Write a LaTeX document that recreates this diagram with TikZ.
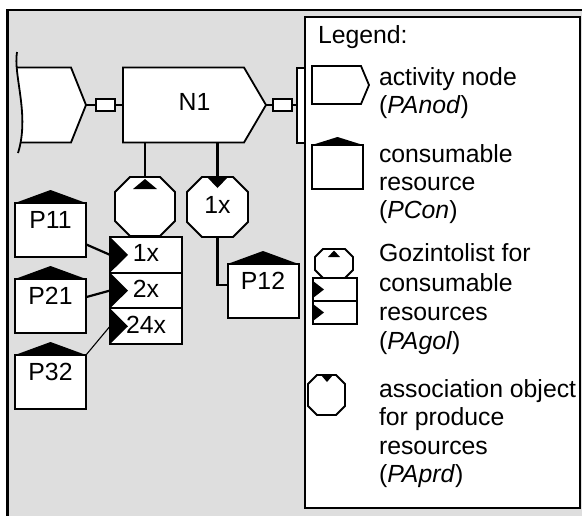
\documentclass[tikz,border=0pt]{standalone}
\usepackage{fontspec}
\setmainfont{Liberation Sans}
\usetikzlibrary{calc}
\definecolor{panelgray}{RGB}{222,222,222}
\tikzset{
  txt/.style={font=\fontsize{24.8}{28.7}\selectfont, inner sep=0pt, outer sep=0pt},
  outline/.style={draw=black, line width=1.8pt, fill=white, line join=miter},
  wire/.style={draw=black, line width=2.2pt},
  thinwire/.style={draw=black, line width=1.1pt},
  port/.style={draw=black, fill=white, line width=1.5pt, minimum width=19pt,
    minimum height=12pt, inner sep=0pt, outer sep=0pt},
  resbox/.style={draw=black, fill=white, line width=2pt, minimum width=71pt,
    minimum height=54pt, inner sep=0pt, outer sep=0pt},
  gzrow/.style={draw=black, fill=white, line width=2pt, minimum width=72pt,
    minimum height=35.7pt, inner sep=0pt, outer sep=0pt},
  frameonly/.style={inner sep=0pt, outer sep=0pt},
}
\begin{document}
\begin{tikzpicture}[x=1pt, y=-1pt]
\useasboundingbox (0,0) rectangle (582,515);
\clip (0,0) rectangle (582,515);

% panel
\draw[line width=2.8pt, fill=panelgray] (7.5,10) rectangle (640,560);

% preceding activity node, torn on its left side
\begin{scope}
  \clip (0,67.5) -- (71,67.5) -- (86,105) -- (71,142.5) -- (0,142.5) -- cycle;
  \fill[white] (17,52) .. controls (13,75) and (30,115) .. (18,153)
    -- (120,153) -- (120,52) -- cycle;
\end{scope}
\draw[line width=1.8pt] (16.4,67.5) -- (71,67.5) -- (86,105) -- (71,142.5) -- (20.8,142.5);
\draw[line width=1.8pt] (17,52) .. controls (13,75) and (30,115) .. (18,153);
\coordinate (a0tip) at (86,105);

% following activity node (mostly hidden)
\node[draw=black, fill=white, line width=2pt, minimum width=20pt, minimum height=75pt,
  frameonly] (n2) at (307,105) {};

% activity node N1
\node[frameonly, minimum width=121pt, minimum height=75pt] (n1) at (183.5,105) {};
\coordinate (n1tip) at ($(n1.east)+(22,0)$);

% ports
\node[port] (pl) at (105.5,105) {};
\node[port] (pr) at (282.5,105) {};
\draw[wire] (a0tip) -- (pl);
\draw[wire] (pl) -- (n1.west);
\draw[wire] (n1tip) -- (pr);
\draw[wire] (pr) -- (n2.west);
\node[port] at (pl) {};
\node[port] at (pr) {};

\draw[outline] (n1.north west) -- (n1.north east) -- (n1tip) -- (n1.south east)
  -- (n1.south west) -- cycle;
\node[txt] (n1lbl) at (194.5,102) {N1};

% gozintolist and association object
\node[frameonly, minimum width=60pt, minimum height=59pt] (goz) at (145,206.5) {};
\node[frameonly, minimum width=61pt, minimum height=60pt] (prd) at (217.5,207) {};
\draw[wire] (n1.south -| goz.north) -- (goz.north);
\draw[wire] (n1.south -| prd.north) -- (prd.north);
\draw[wire] (prd.south) |- ($(263,291)+(-35,-6.2)$) coordinate (p12in);

\draw[outline, shift={(goz.center)}] (-15,-29.5) -- (15,-29.5) -- (30,-14.5) -- (30,14.5)
  -- (15,29.5) -- (-15,29.5) -- (-30,14.5) -- (-30,-14.5) -- cycle;
\fill[shift={(goz.center)}] (-12,-17.5) -- (12,-17.5) -- (0,-27.5) -- cycle;

\draw[outline, shift={(prd.center)}] (-15.5,-30) -- (15.5,-30) -- (30.5,-15) -- (30.5,15)
  -- (15.5,30) -- (-15.5,30) -- (-30.5,15) -- (-30.5,-15) -- cycle;
\fill[shift={(prd.center)}] (-10.5,-30) -- (10.5,-30) -- (0,-19) -- cycle;
\node[txt] (prdlbl) at (217.5,205) {1x};

% gozintolist rows
\node[gzrow] (rowA) at (146,254.85) {};
\node[gzrow] (rowB) at (146,290.55) {};
\node[gzrow] (rowC) at (146,326.25) {};
\foreach \r in {rowA,rowB,rowC}
  \fill (\r.north west) -- ($(\r.west)+(18,0)$) -- (\r.south west) -- cycle;
\node[txt] (qa) at ($(rowA.center)+(0,-1.5)$) {1x};
\node[txt] (qb) at ($(rowB.center)+(0,-1.5)$) {2x};
\node[txt] (qc) at ($(rowC.center)+(0,-1.5)$) {24x};

% consumable resources
\node[resbox] (p11) at (50.5,230) {};
\node[resbox] (p21) at (50.5,306) {};
\node[resbox] (p32) at (50.5,382) {};
\node[resbox] (p12) at (263,291) {};
\foreach \r in {p11,p21,p32,p12}
  \fill (\r.north west) -- ($(\r.north)+(0,-13)$) -- (\r.north east) -- cycle;
\node[txt] (p11lbl) at ($(p11.north)+(0,17)$) {P11};
\node[txt] (p21lbl) at ($(p21.north)+(0,17)$) {P21};
\node[txt] (p32lbl) at ($(p32.north)+(0,17)$) {P32};
\node[txt] (p12lbl) at ($(p12.north)+(0,17)$) {P12};

\draw[wire] (p11.-22) -- (rowA.west);
\draw[wire] (p21.14) -- (rowB.west);
\draw[thinwire] (p32.north east) -- (rowC.west);

% legend
\node[draw=black, fill=white, line width=2pt, minimum width=275pt, minimum height=491pt,
  frameonly] (legend) at (442.5,262.5) {};
\node[txt, anchor=base west] (lgtitle) at (318,43) {Legend:};

% legend symbols
\draw[outline] (312,66) -- (361,66) -- (369,85) -- (361,104) -- (312,104) -- cycle;
\draw[outline] (312,145) rectangle (363,189);
\fill (312,145) -- (337.5,137) -- (363,145) -- cycle;
\draw[outline] (323,249) -- (345,249) -- (353,257) -- (353,270) -- (345,278) -- (323,278)
  -- (315,270) -- (315,257) -- cycle;
\fill (328,257) -- (340,257) -- (334,250.5) -- cycle;
\draw[outline] (313,278) rectangle (357,301);
\draw[outline] (313,301) rectangle (357,324);
\fill (313,281) -- (324,289.5) -- (313,298) -- cycle;
\fill (313,304) -- (324,312.5) -- (313,321) -- cycle;
\draw[outline] (317,375) -- (336,375) -- (345,384) -- (345,406) -- (336,415) -- (317,415)
  -- (308,406) -- (308,384) -- cycle;
\fill (321,375) -- (333,375) -- (327,382) -- cycle;

% legend texts
\foreach \yy/\tt [count=\i] in {
  85/{activity node}, 113/{(\textit{PAnod})},
  162/{consumable}, 190/{resource}, 218/{(\textit{PCon})},
  261/{Gozintolist for}, 291/{consumable}, 320/{resources}, 349/{(\textit{PAgol})},
  397/{association object}, 425/{for produce}, 454/{resources}, 482/{(\textit{PAprd})}}
  \node[txt, anchor=base west] (lgline\i) at (379,\yy) {\tt};
\end{tikzpicture}
\end{document}
